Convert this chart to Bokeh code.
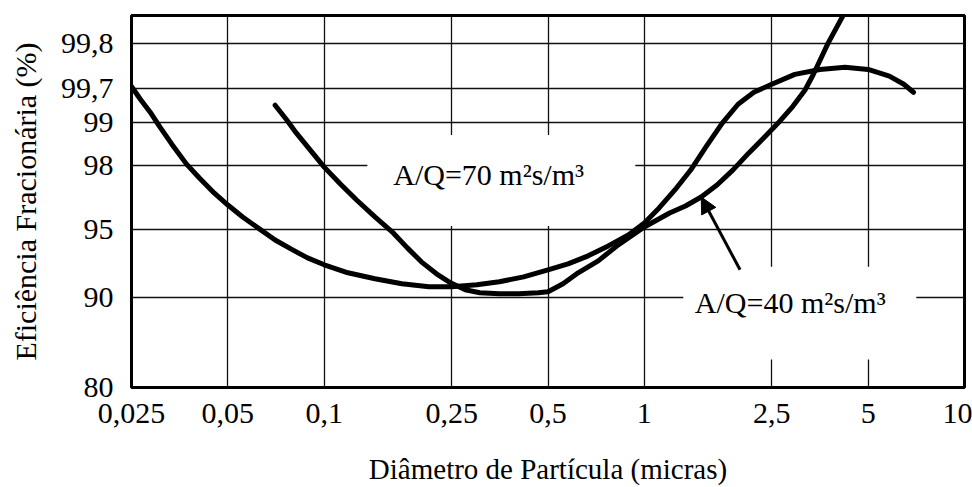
import numpy as np
from bokeh.plotting import figure
from bokeh.models import (FixedTicker, CustomJSTickFormatter, Label, BoxAnnotation,
                          Arrow, NormalHead, Range1d)
from bokeh.embed import file_html
from bokeh.resources import INLINE

# ---- efficiency scale of the graph paper (non-uniform, hand drawn) ----
eff_ticks = [80, 90, 95, 98, 99, 99.7, 99.8]
eff_tick_labels = ["80", "90", "95", "98", "99", "99,7", "99,8"]
scale_eff = [80, 90, 95, 98, 99, 99.7, 99.8, 99.9]
scale_height = [0, 90, 158, 223, 266, 300, 345, 390]
y_top = 373

# ---- particle diameter axis (log) ----
diam_ticks = [0.025, 0.05, 0.1, 0.25, 0.5, 1, 2.5, 5, 10]

# ---- curve A/Q = 40 m2s/m3 (diameter in micras, efficiency in %) ----
d_40 = [0.07024, 0.07607, 0.08187, 0.09049, 0.1, 0.1123, 0.1262, 0.1440, 0.1643, 0.1818,
        0.2011, 0.2242, 0.248, 0.2757, 0.3062, 0.3523, 0.4052, 0.4662, 0.5, 0.5572,
        0.6211, 0.7175, 0.8288, 1.0, 1.199, 1.344, 1.505, 1.686, 1.889, 2.117,
        2.371, 2.649, 2.910, 3.173, 3.361, 3.535, 3.746, 3.968, 4.174, 4.328]
e_40 = [99.350, 99.062, 98.744, 98.349, 97.907, 97.123, 96.385, 95.600, 94.779, 93.676,
        92.647, 91.765, 91.103, 90.588, 90.368, 90.294, 90.294, 90.368, 90.441, 91.029,
        91.838, 92.721, 93.897, 95.138, 95.785, 96.108, 96.523, 97.077, 97.769, 98.279,
        98.651, 99.021, 99.329, 99.659, 99.729, 99.762, 99.800, 99.833, 99.862, 99.884]

# ---- curve A/Q = 70 m2s/m3 ----
d_70 = [0.025, 0.02664, 0.02860, 0.03069, 0.03341, 0.03714, 0.04074, 0.04528, 0.05, 0.05562,
        0.06271, 0.07024, 0.07865, 0.08869, 0.1, 0.1186, 0.1440, 0.1748, 0.2124, 0.25,
        0.2999, 0.3523, 0.4197, 0.5, 0.5776, 0.6675, 0.7714, 0.8910, 1.0, 1.112,
        1.2455, 1.395, 1.563, 1.751, 1.962, 2.198, 2.5, 2.951, 3.535, 4.235,
        5.0, 5.825, 6.464, 6.927]
e_70 = [99.704, 99.474, 99.206, 98.884, 98.488, 98.023, 97.40, 96.71, 96.15, 95.60,
        95.05, 94.26, 93.60, 92.94, 92.43, 91.84, 91.40, 91.03, 90.81, 90.81,
        90.96, 91.18, 91.54, 92.06, 92.50, 93.09, 93.82, 94.63, 95.32, 96.02,
        96.85, 97.77, 98.44, 98.977, 99.371, 99.618, 99.709, 99.731, 99.742, 99.747,
        99.742, 99.727, 99.709, 99.618]

label_70 = "A/Q=70 m²s/m³"
label_40 = "A/Q=40 m²s/m³"


def to_h(eff):
    return np.interp(eff, scale_eff, scale_height)


FONT = "Liberation Serif"

p = figure(width=972, height=487, x_axis_type="log",
           x_range=Range1d(0.025, 10), y_range=Range1d(0, y_top),
           output_backend="svg", toolbar_location=None,
           min_border_left=131, min_border_right=8,
           min_border_top=15, min_border_bottom=99)
p.background_fill_color = "white"
p.border_fill_color = "white"
p.outline_line_color = "black"
p.outline_line_width = 3

# grid
tick_h = [float(v) for v in to_h(eff_ticks)]
p.xgrid.ticker = FixedTicker(ticks=diam_ticks[1:-1])
p.ygrid.ticker = FixedTicker(ticks=tick_h[1:])
for g in (p.xgrid[0], p.ygrid[0]):
    g.grid_line_color = "#111111"
    g.grid_line_width = 1.3
    g.level = "image"

# axes
p.xaxis.ticker = FixedTicker(ticks=diam_ticks)
p.xaxis.formatter = CustomJSTickFormatter(code="return String(tick).replace('.', ',')")
p.yaxis.ticker = FixedTicker(ticks=tick_h)
p.yaxis.formatter = CustomJSTickFormatter(
    args=dict(pos=tick_h, labels=eff_tick_labels),
    code="""
    let best = 0;
    for (let i = 0; i < pos.length; i++) {
        if (Math.abs(pos[i] - tick) < Math.abs(pos[best] - tick)) best = i;
    }
    return labels[best];
    """)
for ax in (p.xaxis[0], p.yaxis[0]):
    ax.axis_line_color = None
    ax.major_tick_line_color = None
    ax.minor_tick_line_color = None
    ax.major_label_text_font = FONT
    ax.major_label_text_font_size = "30px"
    ax.major_label_text_color = "black"
    ax.axis_label_text_font = FONT
    ax.axis_label_text_font_style = "normal"
    ax.axis_label_text_color = "black"
p.xaxis.axis_label = "Diâmetro de Partícula (micras)"
p.xaxis.axis_label_text_font_size = "29px"
p.xaxis.major_label_standoff = 10
p.xaxis.axis_label_standoff = 27
p.yaxis.axis_label = "Eficiência Fracionária (%)"
p.yaxis.axis_label_text_font_size = "30px"
p.yaxis.major_label_standoff = 12
p.yaxis.axis_label_standoff = 16

# white patches behind the labels (grid erased there)
p.add_layout(BoxAnnotation(left=0.1364, right=0.937, bottom=to_h(95.18), top=to_h(98.70),
                           fill_color="white", fill_alpha=1, line_color=None, level="underlay"))
p.add_layout(BoxAnnotation(left=1.323, right=7.07, bottom=to_h(83.11), top=to_h(92.28),
                           fill_color="white", fill_alpha=1, line_color=None, level="underlay"))

# curves
p.line(d_40, to_h(e_40), line_color="black", line_width=5, line_join="round", line_cap="round")
p.line(d_70, to_h(e_70), line_color="black", line_width=5, line_join="round", line_cap="round")

# labels
p.add_layout(Label(x=0.1643, y=to_h(97.58), text=label_70, text_font=FONT,
                   text_font_size="30px", text_align="left", text_baseline="alphabetic",
                   text_color="black"))
p.add_layout(Label(x=1.438, y=to_h(89.44), text=label_40, text_font=FONT,
                   text_font_size="30px", text_align="left", text_baseline="alphabetic",
                   text_color="black"))

# arrow pointing to the A/Q=40 curve
p.add_layout(Arrow(end=NormalHead(size=16, fill_color="black", line_color="black"),
                   x_start=1.99, y_start=to_h(92.06), x_end=1.505, y_end=to_h(96.523),
                   line_width=3, line_color="black"))

open("out.html", "w").write(file_html(p, INLINE))
